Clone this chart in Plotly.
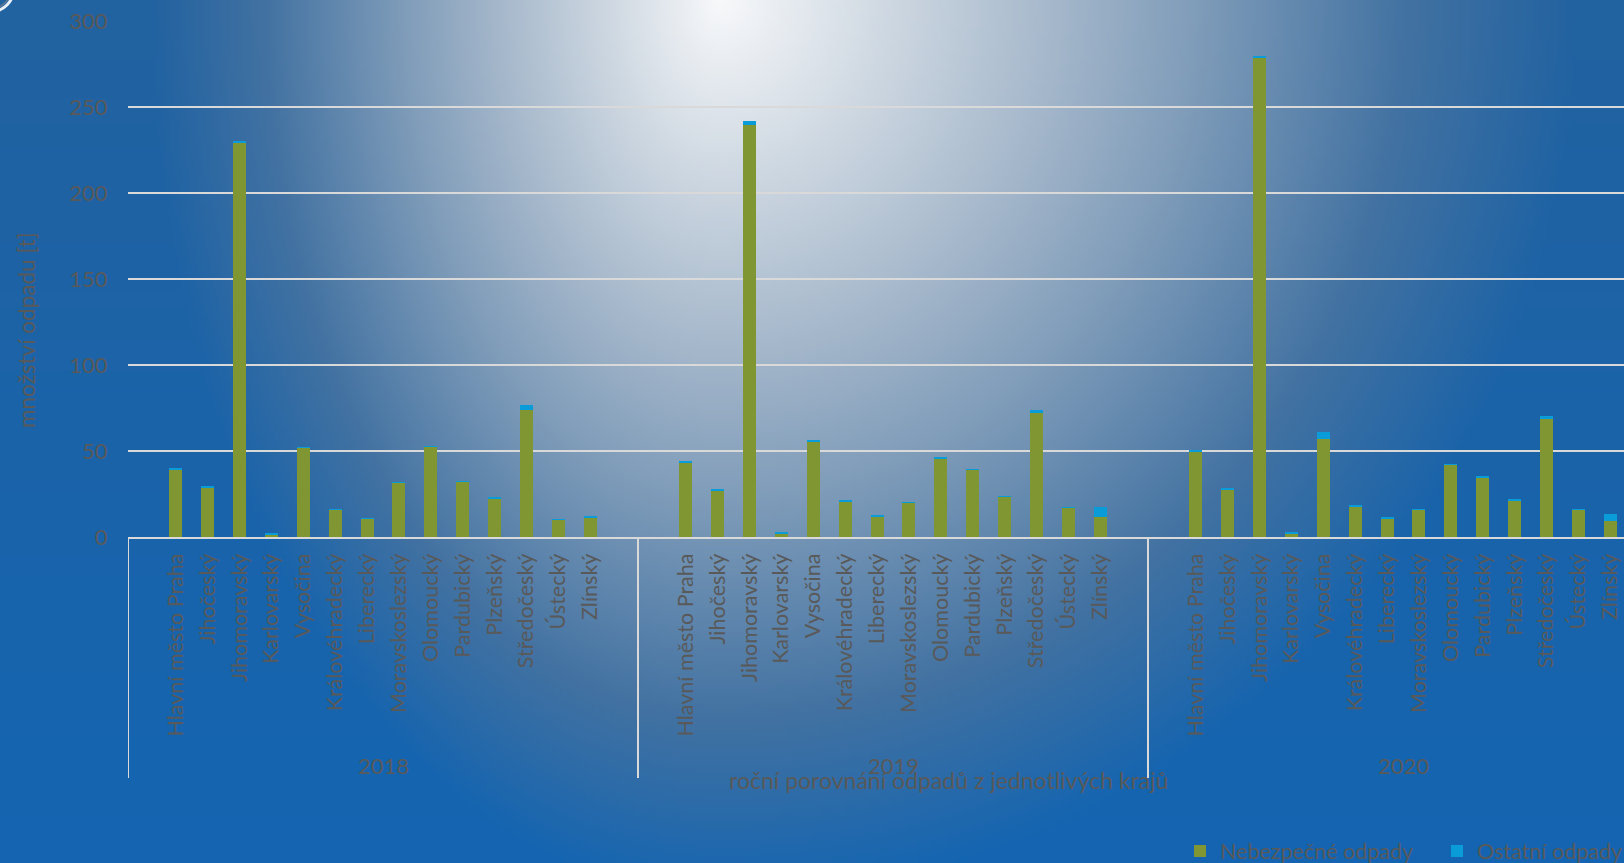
import base64, struct, zlib
import numpy as np
import plotly.graph_objects as go

# ---------------- data ----------------
regions = ["Hlavní město Praha", "Jihočeský", "Jihomoravský", "Karlovarský", "Vysočina",
           "Královéhradecký", "Liberecký", "Moravskoslezský", "Olomoucký", "Pardubický",
           "Plzeňský", "Středočeský", "Ústecký", "Zlínský"]
years = ["2018", "2019", "2020"]

nebezpecne_2018 = [38.8, 28.5, 229.2, 1.7, 52.1, 15.7, 10.6, 31.6, 52.7, 32.2, 22.1, 73.8, 10.1, 10.9]
ostatni_2018 = [1.5, 1.1, 0.6, 0.05, 0.2, 0.3, 0.1, 0.1, 0.2, 0.1, 1.0, 2.7, 0.05, 1.3]
nebezpecne_2019 = [42.8, 26.7, 239.5, 2.3, 55.2, 20.5, 11.6, 19.8, 45.9, 39.1, 23.3, 72.1, 17.1, 11.4]
ostatni_2019 = [1.2, 1.2, 2.2, 0.05, 1.4, 1.0, 1.2, 0.5, 0.4, 0.4, 0.4, 1.7, 0.05, 5.8]
nebezpecne_2020 = [49.6, 27.9, 278.5, 2.1, 57.0, 17.8, 11.0, 15.7, 41.9, 34.5, 21.5, 68.8, 16.1, 9.5]
ostatni_2020 = [1.0, 0.6, 0.6, 0.6, 4.2, 0.6, 0.1, 0.3, 0.5, 1.0, 0.7, 1.5, 0.05, 3.7]

y_ticks = [0, 50, 100, 150, 200, 250, 300]

series_neb = [nebezpecne_2018, nebezpecne_2019, nebezpecne_2020]
series_ost = [ostatni_2018, ostatni_2019, ostatni_2020]

# ---------------- layout geometry ----------------
W, H = 1624, 863
SLOTS = 16  # slots per year group (first and last empty)
slot_px = 510 / SLOTS
x_left_px = 128
x_range = [-0.5, -0.5 + (W - x_left_px) / slot_px]

def py(px):
    return 1 - px / H

def pxx(px):
    return px / W

# ---------------- background (radial glow) as PNG ----------------
def make_bg():
    w, h = 406, 216
    xs = (np.arange(w) + 0.5) * W / w
    ys = (np.arange(h) + 0.5) * H / h
    X, Y = np.meshgrid(xs, ys)
    cx, cy = 720.0, 0.0
    dx = X - cx
    rx = np.where(dx < 0, 570.0, 860.0)
    d = np.sqrt((dx / rx) ** 2 + ((Y - cy) / 900.0) ** 2)
    b = np.clip(1 - d, 0, 1)
    t = (Y / H)[..., None]
    base = np.array([34, 98, 160]) * (1 - t) + np.array([20, 101, 178]) * t
    stops_b = [0.0, 0.2, 0.43, 0.6, 0.82, 1.0]
    stops_c = [None, (66, 114, 162), (124, 154, 184), (163, 182, 202), (210, 219, 228), (248, 249, 251)]
    out = np.zeros((h, w, 3))
    for i in range(len(stops_b) - 1):
        b0, b1 = stops_b[i], stops_b[i + 1]
        m = (b >= b0) & (b <= b1)
        f = ((b - b0) / (b1 - b0))[..., None]
        c0 = base if stops_c[i] is None else np.broadcast_to(np.array(stops_c[i], float), base.shape)
        c1 = np.broadcast_to(np.array(stops_c[i + 1], float), base.shape)
        col = c0 * (1 - f) + c1 * f
        out[m] = col[m]
    img = np.clip(out, 0, 255).astype(np.uint8)
    raw = b"".join(b"\x00" + img[r].tobytes() for r in range(h))

    def chunk(tag, data):
        c = struct.pack(">I", len(data)) + tag + data
        return c + struct.pack(">I", zlib.crc32(tag + data) & 0xFFFFFFFF)

    png = b"\x89PNG\r\n\x1a\n" + chunk(b"IHDR", struct.pack(">IIBBBBB", w, h, 8, 2, 0, 0, 0)) \
        + chunk(b"IDAT", zlib.compress(raw, 9)) + chunk(b"IEND", b"")
    return "data:image/png;base64," + base64.b64encode(png).decode()

# ---------------- traces ----------------
xs, neb, ost, tickvals, ticktext = [], [], [], [], []
for g, yr in enumerate(years):
    for k, reg in enumerate(regions):
        pos = g * SLOTS + k + 1
        xs.append(pos)
        neb.append(series_neb[g][k])
        ost.append(series_ost[g][k])
        tickvals.append(pos)
        ticktext.append(reg)

FONT = "Lato"
TXT = "#595959"
GRID = "#d9d9d9"

fig = go.Figure()
fig.add_trace(go.Bar(x=xs, y=neb, name="Nebezpečné odpady", marker=dict(color="#7f9632", line=dict(width=0)),
                     width=0.41, legend="legend"))
fig.add_trace(go.Bar(x=xs, y=ost, name="Ostatní odpady", marker=dict(color="#0a9cd8", line=dict(width=0)),
                     width=0.41, legend="legend2"))

shapes = []
for g in range(len(years) + 1):
    shapes.append(dict(type="line", xref="x", yref="paper", x0=g * SLOTS - 0.5, x1=g * SLOTS - 0.5,
                       y0=py(537), y1=py(778), line=dict(color=GRID, width=2)))
# decorative ring top-left
shapes.append(dict(type="circle", xref="paper", yref="paper", x0=pxx(-34), x1=pxx(14), y0=py(-36), y1=py(12),
                   line=dict(color="rgba(255,255,255,0.9)", width=3)))
shapes.append(dict(type="circle", xref="paper", yref="paper", x0=pxx(-31), x1=pxx(11), y0=py(-33), y1=py(9),
                   line=dict(color="rgba(120,130,140,0.7)", width=1.5)))

annotations = []
for g, yr in enumerate(years):
    annotations.append(dict(x=g * SLOTS + (SLOTS - 1) / 2, y=py(765), xref="x", yref="paper", text=yr,
                            showarrow=False, font=dict(family=FONT, size=22, color=TXT),
                            xanchor="center", yanchor="middle"))
annotations.append(dict(x=pxx(948), y=py(780), xref="paper", yref="paper",
                        text="roční porovnání odpadů z jednotlivých krajů", showarrow=False,
                        font=dict(family=FONT, size=23, color=TXT), xanchor="center", yanchor="middle"))
annotations.append(dict(x=pxx(27), y=py(330), xref="paper", yref="paper", text="množství odpadu [t]",
                        showarrow=False, textangle=-90, font=dict(family=FONT, size=22.5, color=TXT),
                        xanchor="center", yanchor="middle"))

legend_common = dict(orientation="h", yanchor="middle", xanchor="left", bgcolor="rgba(0,0,0,0)",
                     font=dict(family=FONT, size=21.5, color=TXT), itemwidth=30)

fig.update_layout(
    width=W, height=H,
    margin=dict(l=0, r=0, t=0, b=0, autoexpand=False),
    paper_bgcolor="#1f63a6",
    plot_bgcolor="rgba(0,0,0,0)",
    barmode="stack",
    font=dict(family=FONT, color=TXT, size=20),
    images=[dict(source=make_bg(), xref="paper", yref="paper", x=0, y=1, sizex=1, sizey=1,
                 sizing="stretch", layer="below", xanchor="left", yanchor="top")],
    shapes=shapes,
    annotations=annotations,
    showlegend=True,
    legend=dict(x=pxx(1180), y=py(851), **legend_common),
    legend2=dict(x=pxx(1437), y=py(851), **legend_common),
    xaxis=dict(domain=[pxx(x_left_px), 1], range=x_range, tickmode="array", tickvals=tickvals,
               ticktext=ticktext, tickangle=-90, tickfont=dict(family=FONT, size=21.5, color=TXT),
               ticks="outside", ticklen=6, tickcolor="rgba(0,0,0,0)", showgrid=False, zeroline=False,
               showline=True, linecolor=GRID, linewidth=2, fixedrange=True),
    yaxis=dict(domain=[py(537), py(21)], range=[0, 300], tickmode="array", tickvals=y_ticks,
               tickfont=dict(family=FONT, size=22, color=TXT), ticks="outside", ticklen=15,
               tickcolor="rgba(0,0,0,0)", showgrid=True, gridcolor=GRID, gridwidth=2, zeroline=False,
               showline=False, fixedrange=True),
)

fig.write_html("out.html", config={"displayModeBar": False},
               post_script="document.body.style.margin='0';document.body.style.overflow='hidden';")
